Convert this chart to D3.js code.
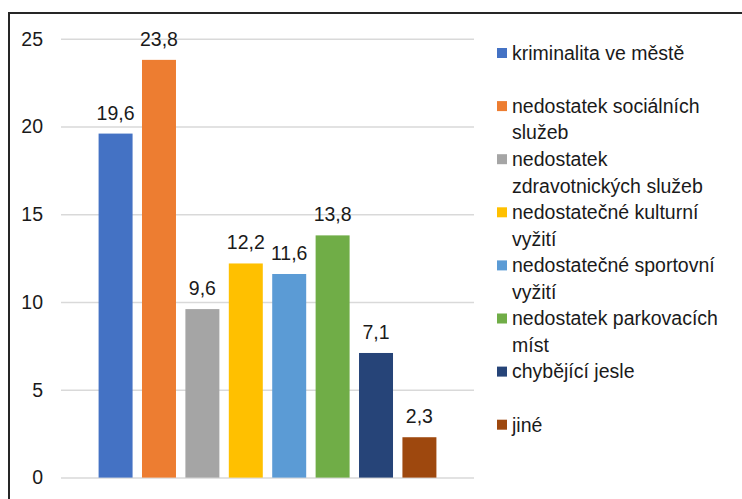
<!DOCTYPE html>
<html>
<head>
<meta charset="utf-8">
<script src="https://cdn.jsdelivr.net/npm/d3@7"></script>
<style>
  html, body { margin: 0; padding: 0; background: #fff; }
  svg { display: block; }
  text { font-family: "Liberation Sans", Arial, sans-serif; fill: #1a1a1a; }
</style>
</head>
<body>
<svg id="chart" width="742" height="499"></svg>
<script>
const series = [
  "kriminalita ve městě",
  "nedostatek sociálních služeb",
  "nedostatek zdravotnických služeb",
  "nedostatečné kulturní vyžití",
  "nedostatečné sportovní vyžití",
  "nedostatek parkovacích míst",
  "chybějící jesle",
  "jiné"
];
const values = [19.6, 23.8, 9.6, 12.2, 11.6, 13.8, 7.1, 2.3];
const valueLabels = ["19,6", "23,8", "9,6", "12,2", "11,6", "13,8", "7,1", "2,3"];
const legendLines = [
  ["kriminalita ve městě"],
  ["nedostatek sociálních", "služeb"],
  ["nedostatek", "zdravotnických služeb"],
  ["nedostatečné kulturní", "vyžití"],
  ["nedostatečné sportovní", "vyžití"],
  ["nedostatek parkovacích", "míst"],
  ["chybějící jesle"],
  ["jiné"]
];
const colors = ["#4472C4", "#ED7D31", "#A5A5A5", "#FFC000", "#5B9BD5", "#70AD47", "#264478", "#9E480E"];
const yTicks = [0, 5, 10, 15, 20, 25];

const FS = 19.5;
const svg = d3.select("#chart");

// outer border
svg.append("path")
  .attr("d", "M9,500 L9,13 L743,13")
  .attr("fill", "none")
  .attr("stroke", "#262626")
  .attr("stroke-width", 2);

const x = d3.scaleBand().domain(series).range([61, 474]).paddingInner(0.217).paddingOuter(0.866);
const y = d3.scaleLinear().domain([0, 25]).range([477.6, 38.8]);

const yAxis = d3.axisLeft(y).tickValues(yTicks).tickSize(-(474 - 61)).tickPadding(18).tickFormat(d3.format("d"));
const gy = svg.append("g").attr("transform", "translate(61,0)").call(yAxis);
gy.select(".domain").remove();
gy.selectAll(".tick line").attr("stroke", "#d9d9d9").attr("stroke-width", 1.5);
gy.selectAll(".tick text").attr("font-size", FS).attr("fill", "#1a1a1a")
  .style("font-family", "'Liberation Sans', Arial, sans-serif");

svg.append("g").selectAll("rect").data(values).join("rect")
  .attr("x", (d, i) => x(series[i]))
  .attr("width", x.bandwidth())
  .attr("y", d => y(d))
  .attr("height", d => y(0) - y(d))
  .attr("fill", (d, i) => colors[i]);

svg.append("g").selectAll("text").data(values).join("text")
  .attr("x", (d, i) => x(series[i]) + x.bandwidth() / 2)
  .attr("y", d => y(d) - 14)
  .attr("text-anchor", "middle")
  .attr("font-size", FS)
  .text((d, i) => valueLabels[i]);

const lg = svg.append("g");
const lineH = 26.5;
legendLines.forEach((lines, i) => {
  const cy = 53 + i * 53.1;
  lg.append("rect").attr("x", 497).attr("y", cy - 5).attr("width", 10).attr("height", 10).attr("fill", colors[i]);
  lines.forEach((t, j) => {
    lg.append("text").attr("x", 512).attr("y", cy + j * lineH).attr("dy", "0.35em")
      .attr("font-size", FS).text(t);
  });
});
</script>
</body>
</html>
